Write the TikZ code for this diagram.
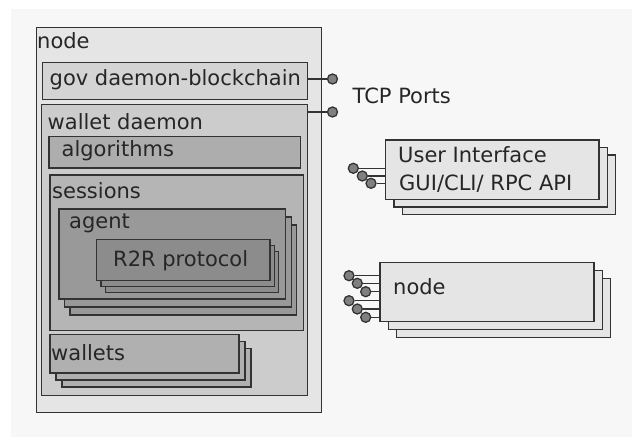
\documentclass[tikz,border=0pt]{standalone}
\usepackage{fontspec}
\setmainfont{DejaVu Sans}
\usetikzlibrary{shadows}

\begin{document}
\begin{tikzpicture}[x=1pt,y=-1pt,
  box/.style={rectangle,draw=black!80,line width=1.3pt,inner sep=0pt,anchor=north west},
  stack/.style n args={3}{
    general shadow={shadow scale=1,shadow xshift=2*#1,shadow yshift=-2*#2,fill=#3,draw=black!80,line width=1.3pt},
    general shadow={shadow scale=1,shadow xshift=#1,shadow yshift=-#2,fill=#3,draw=black!80,line width=1.3pt}},
  txt/.style={anchor=base west,inner sep=0pt,font=\fontsize{21}{25}\selectfont,text=black!85},
  port/.style={circle,draw=black!80,fill=black!50,line width=1.3pt,inner sep=0pt,minimum size=10pt},
  wire/.style={draw=black!80,line width=1.4pt}]

  \useasboundingbox (0,0) rectangle (632,438);
  \fill[black!3] (11,9) rectangle (632,437);

  % local node
  \node[box,fill=black!10,minimum width=284.5pt,minimum height=385pt] (outer) at (36,27) {};
  \node[box,fill=black!17,minimum width=265pt,minimum height=37pt] (gov) at (42,62) {};
  \node[box,fill=black!20,minimum width=266pt,minimum height=291pt] (walletd) at (41,104) {};
  \node[box,fill=black!32,minimum width=251.7pt,minimum height=31.6pt] (algo) at (48.3,135.7) {};
  \node[box,fill=black!29,minimum width=253.4pt,minimum height=155.7pt] (sessions) at (49.3,174.3) {};
  \node[box,fill=black!40,stack={5.5pt}{8pt}{black!40},minimum width=226.7pt,minimum height=90pt] (agent) at (58.3,208.3) {};
  \node[box,fill=black!45,stack={4.3pt}{6pt}{black!45},minimum width=173.3pt,minimum height=41pt] (r2r) at (96,239) {};
  \node[box,fill=black!31,stack={6pt}{7pt}{black!31},minimum width=189pt,minimum height=38.3pt] (wallets) at (49.3,334) {};

  % remote parts
  \node[box,fill=black!10,stack={8.3pt}{7.5pt}{black!10},minimum width=213.3pt,minimum height=59.7pt] (ui) at (385,139.3) {};
  \node[box,fill=black!10,stack={8.3pt}{8pt}{black!10},minimum width=214pt,minimum height=59pt] (remote) at (379.3,261.7) {};

  % labels
  \node[txt] (outerlbl) at (37,49) {node};
  \node[txt] (govlbl) at (49.5,85.7) {gov daemon-blockchain};
  \node[txt] (walletdlbl) at (47.5,129.3) {wallet daemon};
  \node[txt] (algolbl) at (61.5,156.7) {algorithms};
  \node[txt] (sessionslbl) at (52,199) {sessions};
  \node[txt] (agentlbl) at (69,228.3) {agent};
  \node[txt] (r2rlbl) at (113,266.5) {R2R protocol};
  \node[txt] (walletslbl) at (51,360.7) {wallets};
  \node[txt] (tcplbl) at (352.5,104) {TCP Ports};
  \node[txt] (uilbl) at (398,162.7) {User Interface};
  \node[txt] (apilbl) at (399,190.7) {GUI/CLI/ RPC API};
  \node[txt] (remotelbl) at (393,295) {node};

  % ports
  \node[port] (gp) at (332.5,79) {};
  \node[port] (wp) at (332.5,112) {};
  \draw[wire] (gp) -- (gp -| gov.east);
  \draw[wire] (wp) -- (wp -| walletd.east);

  \foreach \n/\px/\py in {u1/353.3/168.3, u2/362.3/176, u3/371/183.3}
    \node[port] (\n) at (\px,\py) {};
  \foreach \n in {u1,u2,u3}
    \draw[wire] (\n) -- (\n -| ui.west);

  \foreach \n/\px/\py in {n1/349/275.7, n2/357.3/283.3, n3/365.7/291.7,
                          n4/349/300.7, n5/357.3/309, n6/365.7/317.3}
    \node[port] (\n) at (\px,\py) {};
  \foreach \n in {n1,n2,n3,n4,n5,n6}
    \draw[wire] (\n) -- (\n -| remote.west);
\end{tikzpicture}
\end{document}
